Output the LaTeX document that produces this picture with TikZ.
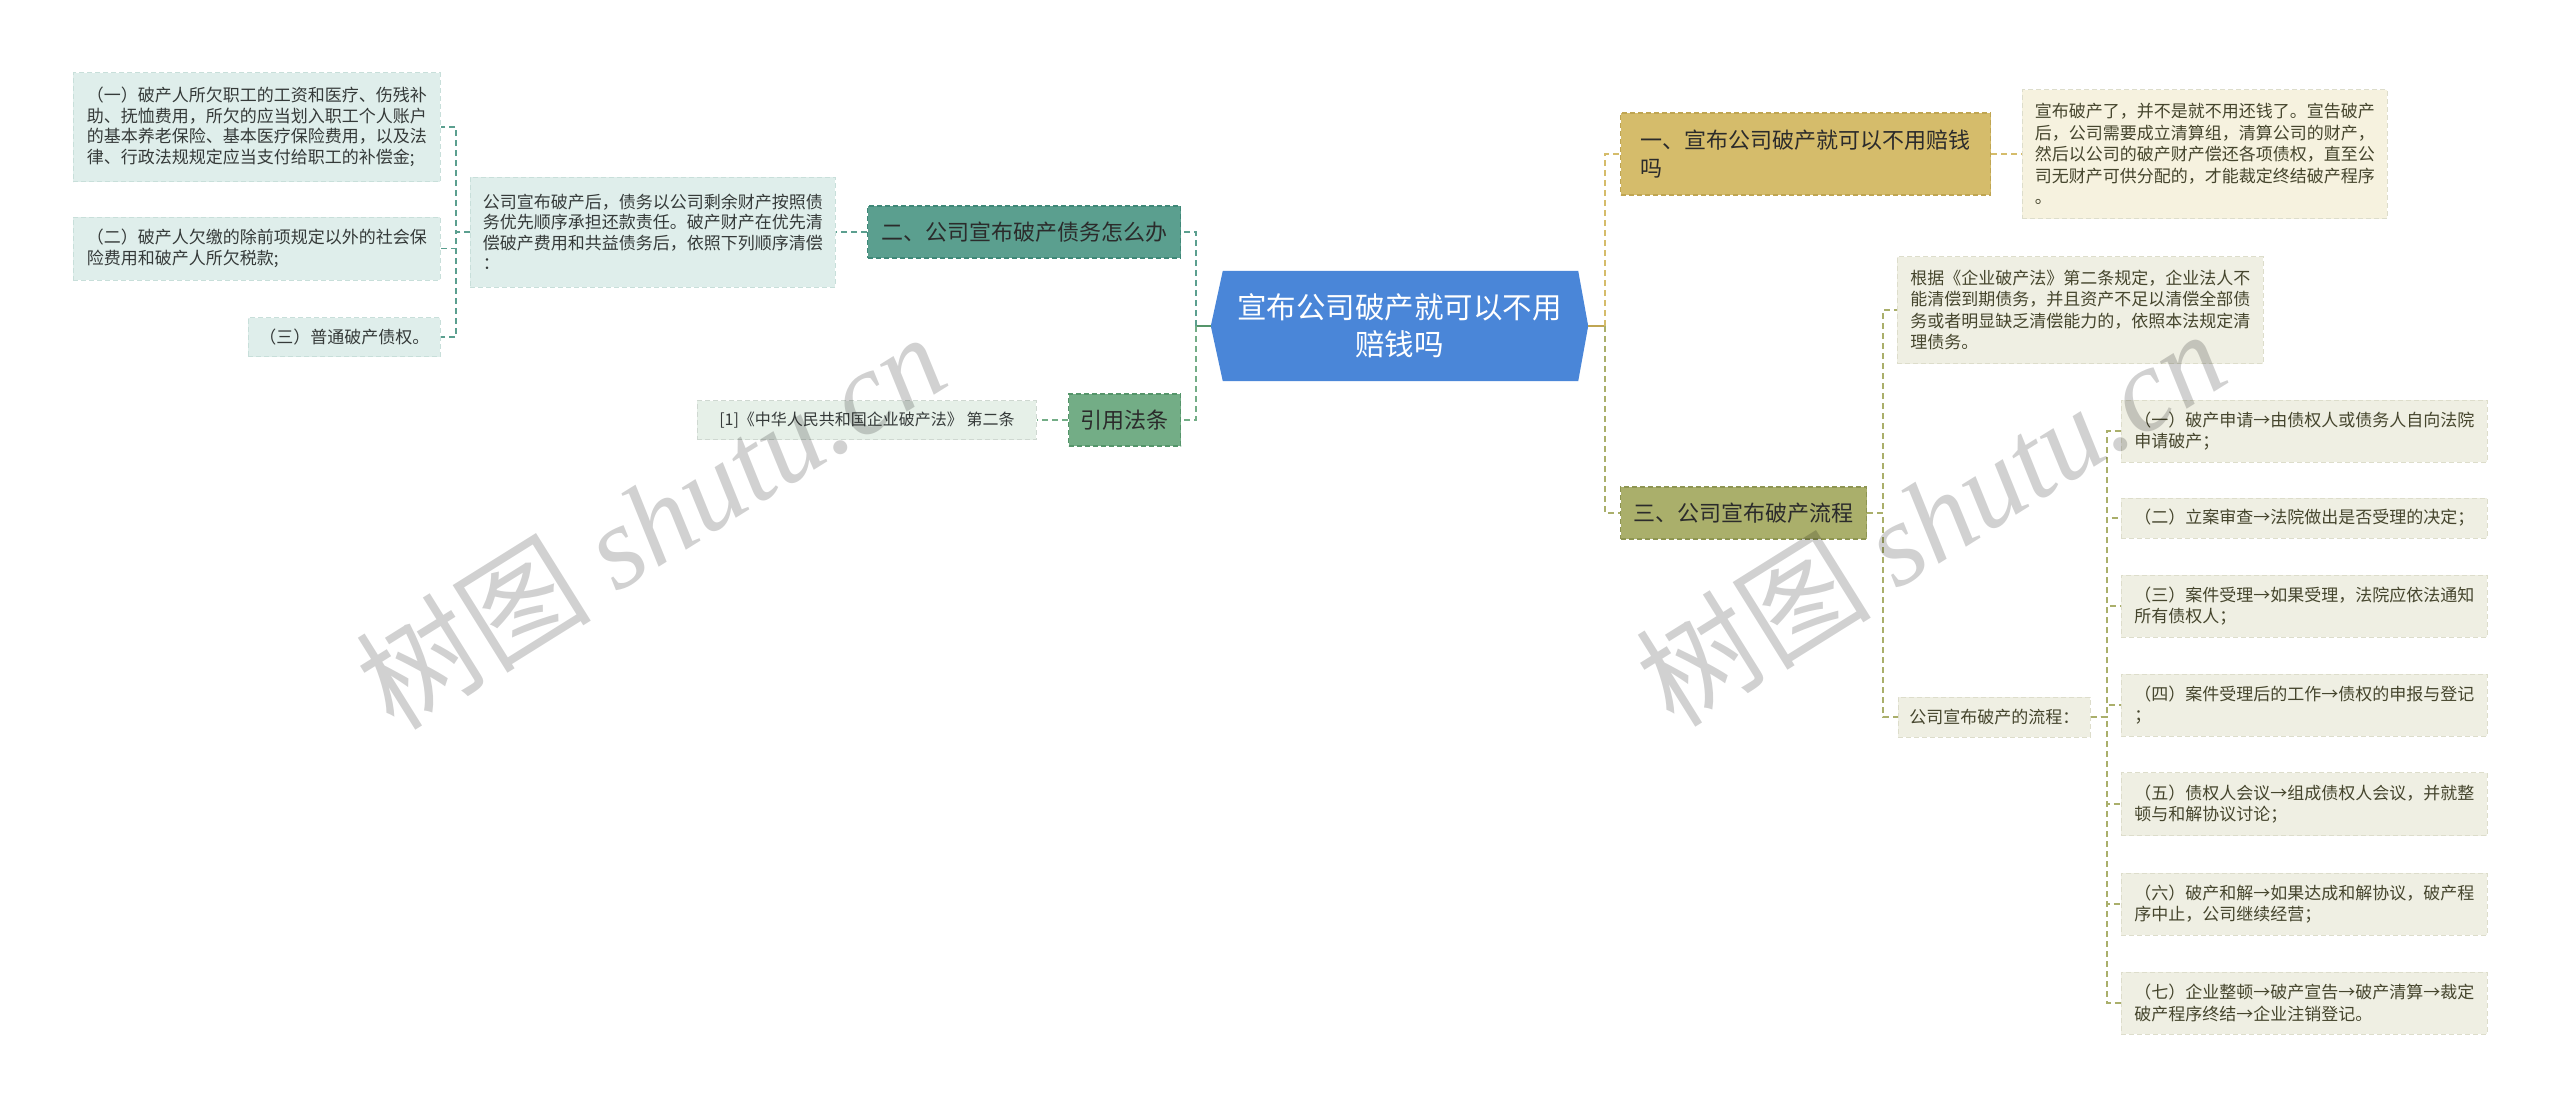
\documentclass[tikz,border=0pt]{standalone}
\usepackage{fontspec}
\setmainfont{Noto Sans CJK SC}
\newfontfamily\wmlatin{Liberation Serif}
\usetikzlibrary{positioning,backgrounds}
\definecolor{rootblue}{HTML}{4A86D8}
\definecolor{tealbox}{HTML}{5B9F8F}
\definecolor{tealline}{HTML}{3F8878}
\definecolor{greenbox}{HTML}{73AD86}
\definecolor{greenline}{HTML}{55956A}
\definecolor{goldbox}{HTML}{D5BC6B}
\definecolor{goldline}{HTML}{BFA552}
\definecolor{olivebox}{HTML}{AAAF6B}
\definecolor{oliveline}{HTML}{8E9552}
\definecolor{cyanleaf}{HTML}{DFEEEB}
\definecolor{cyanedge}{HTML}{C8DFDA}
\definecolor{mintleaf}{HTML}{E6F0E8}
\definecolor{creamleaf}{HTML}{F6F2DF}
\definecolor{paleleaf}{HTML}{EFEFE3}
\definecolor{paleedge}{HTML}{DDDDCB}
\definecolor{darktext}{HTML}{2B2B2B}
\definecolor{slatetext}{HTML}{353A39}
\definecolor{olivetext}{HTML}{45452D}
\tikzset{%
every node/.style={inner sep=0pt},
rootnode/.style={text=white,font=\fontsize{29.5}{37}\selectfont,align=center},
topic/.style={draw=#1,dash pattern=on 5pt off 3pt,line width=1.2pt,text=darktext,
  font=\fontsize{22}{28}\selectfont,align=left,anchor=west},
leafL/.style={fill=cyanleaf,draw=cyanedge,dash pattern=on 5pt off 3pt,line width=0.8pt,
  text=slatetext,font=\fontsize{17}{20.5}\selectfont,align=left,anchor=west},
leafR/.style={fill=paleleaf,draw=paleedge,dash pattern=on 5pt off 3pt,line width=0.8pt,
  text=olivetext,font=\fontsize{17}{21.5}\selectfont,align=left,anchor=west},
sz/.style 2 args={minimum width=#1,minimum height=#2},
link/.style={draw=#1,line width=1.6pt,dash pattern=on 6pt off 4pt},
stub/.style={draw=#1,line width=1.8pt},
watermark/.style={text=black,text opacity=0.18,rotate=32,font=\fontsize{118}{118}\selectfont}
}
\begin{document}
\begin{tikzpicture}[x=1pt,y=-1pt]
\begin{scope}[on background layer]
  \fill[white] (0,0) rectangle (2560,1109);
\end{scope}
\useasboundingbox (0,0) rectangle (2560,1109);

% centre
\node[rootnode,sz={377pt}{110pt}] (root) at (1399.5,326) {宣布公司破产就可以不用\\赔钱吗};
\begin{scope}[on background layer]
  \fill[rootblue] (root.west) -- ([xshift=12pt]root.north west) -- ([xshift=-10pt]root.north east)
    -- (root.east) -- ([xshift=-10pt]root.south east) -- ([xshift=12pt]root.south west) -- cycle;
\end{scope}

% left branches
\node[topic=tealline,fill=tealbox,sz={313pt}{52pt}] (debt) at (867,232) {二、公司宣布破产债务怎么办};
\node[leafL,sz={365pt}{110pt}] (order) at (470,232)
  {公司宣布破产后，债务以公司剩余财产按照债\\务优先顺序承担还款责任。破产财产在优先清\\偿破产费用和共益债务后，依照下列顺序清偿\\：};
\node[leafL,sz={367pt}{109pt}] (first) at (73,127)
  {（一）破产人所欠职工的工资和医疗、伤残补\\助、抚恤费用，所欠的应当划入职工个人账户\\的基本养老保险、基本医疗保险费用，以及法\\律、行政法规规定应当支付给职工的补偿金;};
\node[leafL,sz={367pt}{63pt}] (second) at (73,248.5)
  {（二）破产人欠缴的除前项规定以外的社会保\\险费用和破产人所欠税款;};
\node[leafL,sz={192pt}{39pt}] (third) at (248,337) {（三）普通破产债权。};
\node[topic=greenline,fill=greenbox,sz={112pt}{52pt}] (cite) at (1068,420) {引用法条};
\node[leafL,fill=mintleaf,draw=mintleaf!90!black,font=\fontsize{16}{20}\selectfont,sz={339pt}{39pt}] (law) at (697,420)
  {[1]《中华人民共和国企业破产法》 第二条};

\coordinate (jl) at (1196,326);
\draw[stub=greenline] (root.west) -- (jl);
\draw[link=tealbox] (jl) |- (debt.east);
\draw[link=greenbox] (jl) |- (cite.east);
\draw[link=tealbox] (debt.west) -- (order.east);
\draw[link=greenbox] (cite.west) -- (law.east);
\foreach \k in {first,second,third}
  \draw[link=tealbox] (order.west) -- ++(-14,0) |- (\k.east);

% right branches
\node[topic=goldline,fill=goldbox,sz={370pt}{82pt}] (free) at (1620,154) {一、宣布公司破产就可以不用赔钱\\吗};
\node[leafR,fill=creamleaf,sz={365pt}{129pt}] (repay) at (2022,154)
  {宣布破产了，并不是就不用还钱了。宣告破产\\后，公司需要成立清算组，清算公司的财产，\\然后以公司的破产财产偿还各项债权，直至公\\司无财产可供分配的，才能裁定终结破产程序\\。};
\node[topic=oliveline,fill=olivebox,sz={246pt}{52pt}] (flow) at (1620,513) {三、公司宣布破产流程};
\node[leafR,sz={366pt}{107pt}] (rule) at (1897,310)
  {根据《企业破产法》第二条规定，企业法人不\\能清偿到期债务，并且资产不足以清偿全部债\\务或者明显缺乏清偿能力的，依照本法规定清\\理债务。};
\node[leafR,sz={192pt}{40pt}] (steps) at (1898,717) {公司宣布破产的流程：};
\node[leafR,sz={366pt}{62pt}] (s1) at (2121,431) {（一）破产申请→由债权人或债务人自向法院\\申请破产；};
\node[leafR,sz={366pt}{40pt}] (s2) at (2121,518) {（二）立案审查→法院做出是否受理的决定；};
\node[leafR,sz={366pt}{62pt}] (s3) at (2121,606) {（三）案件受理→如果受理，法院应依法通知\\所有债权人；};
\node[leafR,sz={366pt}{62pt}] (s4) at (2121,705) {（四）案件受理后的工作→债权的申报与登记\\；};
\node[leafR,sz={366pt}{63pt}] (s5) at (2121,804) {（五）债权人会议→组成债权人会议，并就整\\顿与和解协议讨论；};
\node[leafR,sz={366pt}{62pt}] (s6) at (2121,904) {（六）破产和解→如果达成和解协议，破产程\\序中止，公司继续经营；};
\node[leafR,sz={366pt}{62pt}] (s7) at (2121,1003) {（七）企业整顿→破产宣告→破产清算→裁定\\破产程序终结→企业注销登记。};

\coordinate (jr) at (1605,326);
\draw[stub=goldline] (root.east) -- (jr);
\draw[link=goldbox] (jr) |- (free.west);
\draw[link=olivebox] (jr) |- (flow.west);
\draw[link=goldbox] (free.east) -- (repay.west);
\foreach \k in {rule,steps}
  \draw[link=olivebox] (flow.east) -- ++(16,0) |- (\k.west);
\foreach \k in {s1,s2,s3,s4,s5,s6,s7}
  \draw[link=olivebox] (steps.east) -- ++(16,0) |- (\k.west);

% watermark
\node[watermark] (wm1) at (650,520) {树图 {\wmlatin\itshape shutu.cn}};
\node[watermark] (wm2) at (1930,517) {树图 {\wmlatin\itshape shutu.cn}};
\end{tikzpicture}
\end{document}
